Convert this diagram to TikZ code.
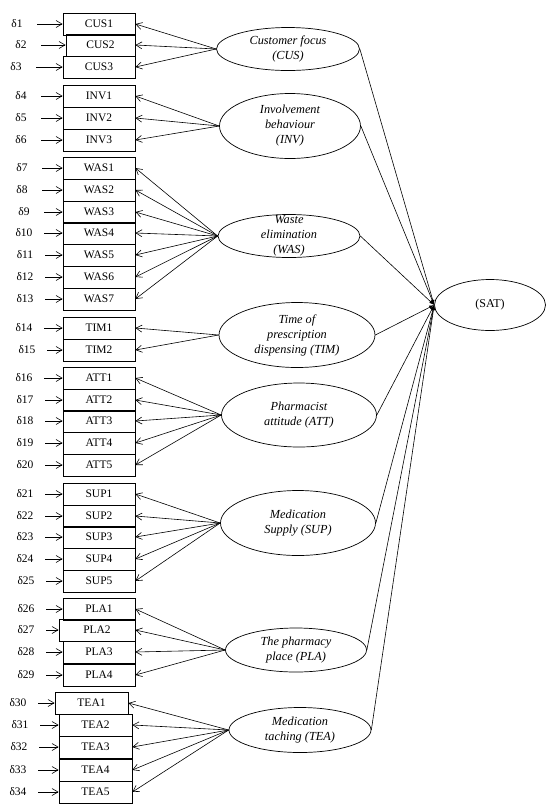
\documentclass[tikz,border=0pt]{standalone}
\usepackage{fontspec}
\setmainfont{Liberation Serif}
\usetikzlibrary{shapes.geometric,arrows.meta}

\begin{document}
\begin{tikzpicture}[x=1pt,y=-1pt,
		indicator/.style={draw, rectangle, line width=0.8pt, minimum height=22, inner sep=0pt, font=\fontsize{11.5}{13}\selectfont},
		err/.style={minimum width=40, inner sep=0pt, font=\fontsize{11.5}{13}\selectfont},
		construct/.style={draw, ellipse, line width=0.7pt, inner sep=0pt},
		ctext/.style={align=center, font=\fontsize{12.3}{15}\selectfont\itshape},
		load/.style={-{Straight Barb[length=6pt,width=7pt]}, line width=0.6pt},
		effect/.style={-{Latex[length=5pt,width=3.5pt]}, line width=0.6pt}]
			\useasboundingbox (0,0) rectangle (551,804);
			
			% observed items with their error terms
			\foreach \k/\t/\y/\l/\r/\dx in {
				1/CUS1/24/63/135/17, 2/CUS2/45/66/135/21, 3/CUS3/67/63/135/16,
				4/INV1/96/63/135/21, 5/INV2/118/63/135/21, 6/INV3/140/63/135/21,
				7/WAS1/168/63/135/22, 8/WAS2/190/63/135/22, 9/WAS3/212/63/135/24,
				10/WAS4/233/63/135/24, 11/WAS5/255/63/135/25, 12/WAS6/277/63/135/25,
				13/WAS7/299/63/135/25,
				14/TIM1/328/63/135/24, 15/TIM2/350/63/135/27,
				16/ATT1/378/63/135/24, 17/ATT2/400/63/135/25, 18/ATT3/421/63/135/25,
				19/ATT4/443/63/135/25, 20/ATT5/465/63/135/25,
				21/SUP1/494/63/135/25, 22/SUP2/516/63/135/25, 23/SUP3/537/63/135/25,
				24/SUP4/559/63/135/25, 25/SUP5/581/63/135/26,
				26/PLA1/609/63/135/26, 27/PLA2/630/59/135/26, 28/PLA3/652/63/135/26,
				29/PLA4/675/63/135/26,
				30/TEA1/703/55/128/18, 31/TEA2/725/59/132/20, 32/TEA3/747/59/132/19,
				33/TEA4/770/59/132/18, 34/TEA5/792/59/132/18} {
				\node[indicator, minimum width=\r-\l] (b\k) at ({(\l+\r)/2},\y) {\t};
				\node[err] (d\k) at (\dx,\y) {δ\k};
				\draw[load] (d\k.east) -- (b\k.west);
			}
			
			% latent constructs
			\node[construct, minimum width=143, minimum height=43] (cus) at (288,49) {};
			\node[ctext] (cus-t) at (cus) {Customer focus\\(CUS)};
			\node[construct, minimum width=141, minimum height=65] (inv) at (290,126) {};
			\node[ctext] (inv-t) at (inv) {Involvement\\behaviour\\(INV)};
			\node[construct, minimum width=142, minimum height=43] (was) at (289,236) {};
			\node[ctext] (was-t) at (was) {Waste\\elimination\\(WAS)};
			\node[construct, minimum width=156, minimum height=65] (tim) at (297,335) {};
			\node[ctext] (tim-t) at (tim) {Time of\\prescription\\dispensing (TIM)};
			\node[construct, minimum width=155, minimum height=64] (att) at (299,415) {};
			\node[ctext] (att-t) at (att) {Pharmacist\\attitude (ATT)};
			\node[construct, minimum width=155, minimum height=65] (sup) at (298,523) {};
			\node[ctext] (sup-t) at (sup) {Medication\\Supply (SUP)};
			\node[construct, minimum width=141, minimum height=44] (pla) at (296,650) {};
			\node[ctext] (pla-t) at (pla) {The pharmacy\\place (PLA)};
			\node[construct, minimum width=142, minimum height=45] (tea) at (300,730) {};
			\node[ctext] (tea-t) at (tea) {Medication\\taching (TEA)};
			\node[construct, minimum width=111, minimum height=51, font=\fontsize{12}{15}\selectfont] (sat) at (490,305) {(SAT)};
			
			% loadings
			\foreach \k in {1,...,3} \draw[load] (cus.west) -- (b\k.east);
			\foreach \k in {4,...,6} \draw[load] (inv.west) -- (b\k.east);
			\foreach \k in {7,...,13} \draw[load] (was.west) -- (b\k.east);
			\foreach \k in {14,15} \draw[load] (tim.west) -- (b\k.east);
			\foreach \k in {16,...,20} \draw[load] (att.west) -- (b\k.east);
			\foreach \k in {21,...,25} \draw[load] (sup.west) -- (b\k.east);
			\foreach \k in {26,...,29} \draw[load] (pla.west) -- (b\k.east);
			\foreach \k in {30,...,34} \draw[load] (tea.west) -- (b\k.east);
			
			% paths to satisfaction
			\foreach \c in {cus,inv,was,tim,att,sup,pla,tea}
				\draw[effect] (\c.east) -- (sat.west);
		
		\end{tikzpicture}
\end{document}
